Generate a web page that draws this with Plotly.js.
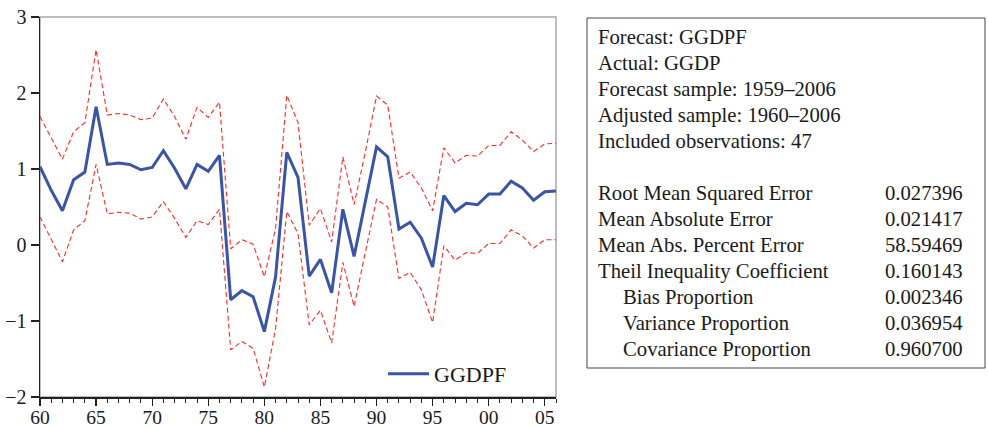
<!DOCTYPE html>
<html>
<head>
<meta charset="utf-8">
<script src="https://cdn.plot.ly/plotly-3.0.1.min.js"></script>
<style>
html,body{margin:0;padding:0;background:#fff;}
#chart{width:988px;height:428px;}
</style>
</head>
<body>
<div id="chart"></div>
<script>
const years = [1960,1961,1962,1963,1964,1965,1966,1967,1968,1969,
               1970,1971,1972,1973,1974,1975,1976,1977,1978,1979,
               1980,1981,1982,1983,1984,1985,1986,1987,1988,1989,
               1990,1991,1992,1993,1994,1995,1996,1997,1998,1999,
               2000,2001,2002,2003,2004,2005,2006];
const ggdpf = [1.03,0.72,0.45,0.86,0.96,1.82,1.06,1.08,1.06,0.99,
               1.02,1.24,1.01,0.74,1.06,0.97,1.18,-0.72,-0.60,-0.68,
               -1.14,-0.42,1.22,0.89,-0.41,-0.19,-0.63,0.47,-0.15,0.57,
               1.29,1.16,0.21,0.30,0.09,-0.29,0.65,0.44,0.55,0.53,
               0.67,0.67,0.84,0.75,0.59,0.70,0.71];
const upperBand = [1.69,1.42,1.13,1.49,1.61,2.57,1.71,1.73,1.71,1.65,
               1.67,1.92,1.69,1.39,1.81,1.68,1.88,-0.05,0.07,0.01,
               -0.42,0.22,1.97,1.61,0.26,0.48,0.04,1.16,0.53,1.22,
               1.96,1.84,0.88,0.96,0.75,0.45,1.28,1.08,1.18,1.17,
               1.31,1.31,1.49,1.38,1.23,1.33,1.34];
const lowerBand = [0.37,0.08,-0.22,0.20,0.32,1.06,0.41,0.43,0.42,0.34,
               0.37,0.57,0.35,0.10,0.32,0.27,0.47,-1.38,-1.27,-1.36,
               -1.87,-1.10,0.44,0.15,-1.05,-0.86,-1.29,-0.23,-0.81,-0.10,
               0.60,0.50,-0.44,-0.36,-0.59,-1.02,-0.01,-0.20,-0.10,-0.11,
               0.02,0.02,0.20,0.12,-0.04,0.07,0.07];
const xTickVals = [1960,1965,1970,1975,1980,1985,1990,1995,2000,2005];
const xTickText = ["60","65","70","75","80","85","90","95","00","05"];
const yTickVals = [-2,-1,0,1,2,3];
const headerLines = ["Forecast: GGDPF","Actual: GGDP","Forecast sample: 1959\u20132006","Adjusted sample: 1960\u20132006","Included observations: 47"];
const statLabels = ["Root Mean Squared Error","Mean Absolute Error","Mean Abs. Percent Error","Theil Inequality Coefficient","Bias Proportion","Variance Proportion","Covariance Proportion"];
const statIndent = [false,false,false,false,true,true,true];
const statValues = ["0.027396","0.021417","58.59469","0.160143","0.002346","0.036954","0.960700"];

const FONT = "Liberation Serif, Times New Roman, serif";
const W = 988, H = 428, ML = 40, MR = 432, MT = 17, MB = 31;
const PW = W - ML - MR, PH = H - MT - MB;
function px2x(p){ return (p - ML) / PW; }
function px2y(p){ return (H - MB - p) / PH; }

const traces = [
  {x: years, y: upperBand, mode: 'lines', showlegend: false, hoverinfo: 'skip',
   line: {color: '#ff2a2a', width: 1.1, dash: '5px,3px'}},
  {x: years, y: lowerBand, mode: 'lines', showlegend: false, hoverinfo: 'skip',
   line: {color: '#ff2a2a', width: 1.1, dash: '5px,3px'}},
  {x: years, y: ggdpf, mode: 'lines', name: 'GGDPF',
   line: {color: '#3a54a6', width: 3}}
];

const TXT = {family: FONT, size: 20.7, color: '#1a1a1a'};
const annotations = [];
const lineY = [37,63,89,115,141];
headerLines.forEach((t,i)=>{
  annotations.push({xref:'paper', yref:'paper', x: px2x(596), y: px2y(lineY[i]),
    xanchor:'left', yanchor:'middle', text: t, showarrow:false, font: TXT});
});
const statY = [193,219,245,271,297,323,349];
statLabels.forEach((t,i)=>{
  annotations.push({xref:'paper', yref:'paper', x: px2x(statIndent[i] ? 621 : 596), y: px2y(statY[i]),
    xanchor:'left', yanchor:'middle', text: t, showarrow:false, font: TXT});
  annotations.push({xref:'paper', yref:'paper', x: px2x(965), y: px2y(statY[i]),
    xanchor:'right', yanchor:'middle', text: statValues[i], showarrow:false, font: TXT});
});

const layout = {
  width: W, height: H,
  margin: {l: ML, r: MR, t: MT, b: MB, pad: 0},
  paper_bgcolor: '#fff', plot_bgcolor: '#fff',
  font: {family: FONT, size: 20, color: '#1a1a1a'},
  showlegend: true,
  legend: {x: px2x(383), y: px2y(374), xanchor: 'left', yanchor: 'middle',
    bgcolor: 'rgba(0,0,0,0)', borderwidth: 0, itemwidth: 41,
    font: {family: FONT, size: 22, color: '#1a1a1a'}},
  xaxis: {range: [1960, 2006], tickmode: 'array', tickvals: xTickVals, ticktext: xTickText,
    ticks: 'outside', ticklen: 7, tickwidth: 1.2, tickcolor: '#222',
    ticklabelstandoff: -5,
    showline: true, linecolor: '#222', linewidth: 1.5,
    showgrid: false, zeroline: false,
    minor: {dtick: 1, tick0: 1960, ticks: 'outside', ticklen: 4, tickwidth: 1, tickcolor: '#222', showgrid: false},
    tickfont: {family: FONT, size: 19.5, color: '#1a1a1a'}},
  yaxis: {range: [-2, 3], tickmode: 'array', tickvals: yTickVals,
    ticks: 'outside', ticklen: 8, tickwidth: 1.2, tickcolor: '#222',
    showline: true, linecolor: '#222', linewidth: 1.5,
    showgrid: false, zeroline: false,
    tickfont: {family: FONT, size: 20, color: '#1a1a1a'}},
  shapes: [
    {type: 'rect', xref: 'paper', yref: 'paper', x0: 0, x1: 1, y0: 0, y1: 1,
     line: {color: '#a8a8a8', width: 1.5}, layer: 'below'},
    {type: 'rect', xref: 'paper', yref: 'paper', x0: px2x(587), x1: px2x(985), y0: px2y(368), y1: px2y(18),
     line: {color: '#444', width: 1}}
  ],
  annotations: annotations
};

Plotly.newPlot('chart', traces, layout, {staticPlot: true, displayModeBar: false});
</script>
</body>
</html>
